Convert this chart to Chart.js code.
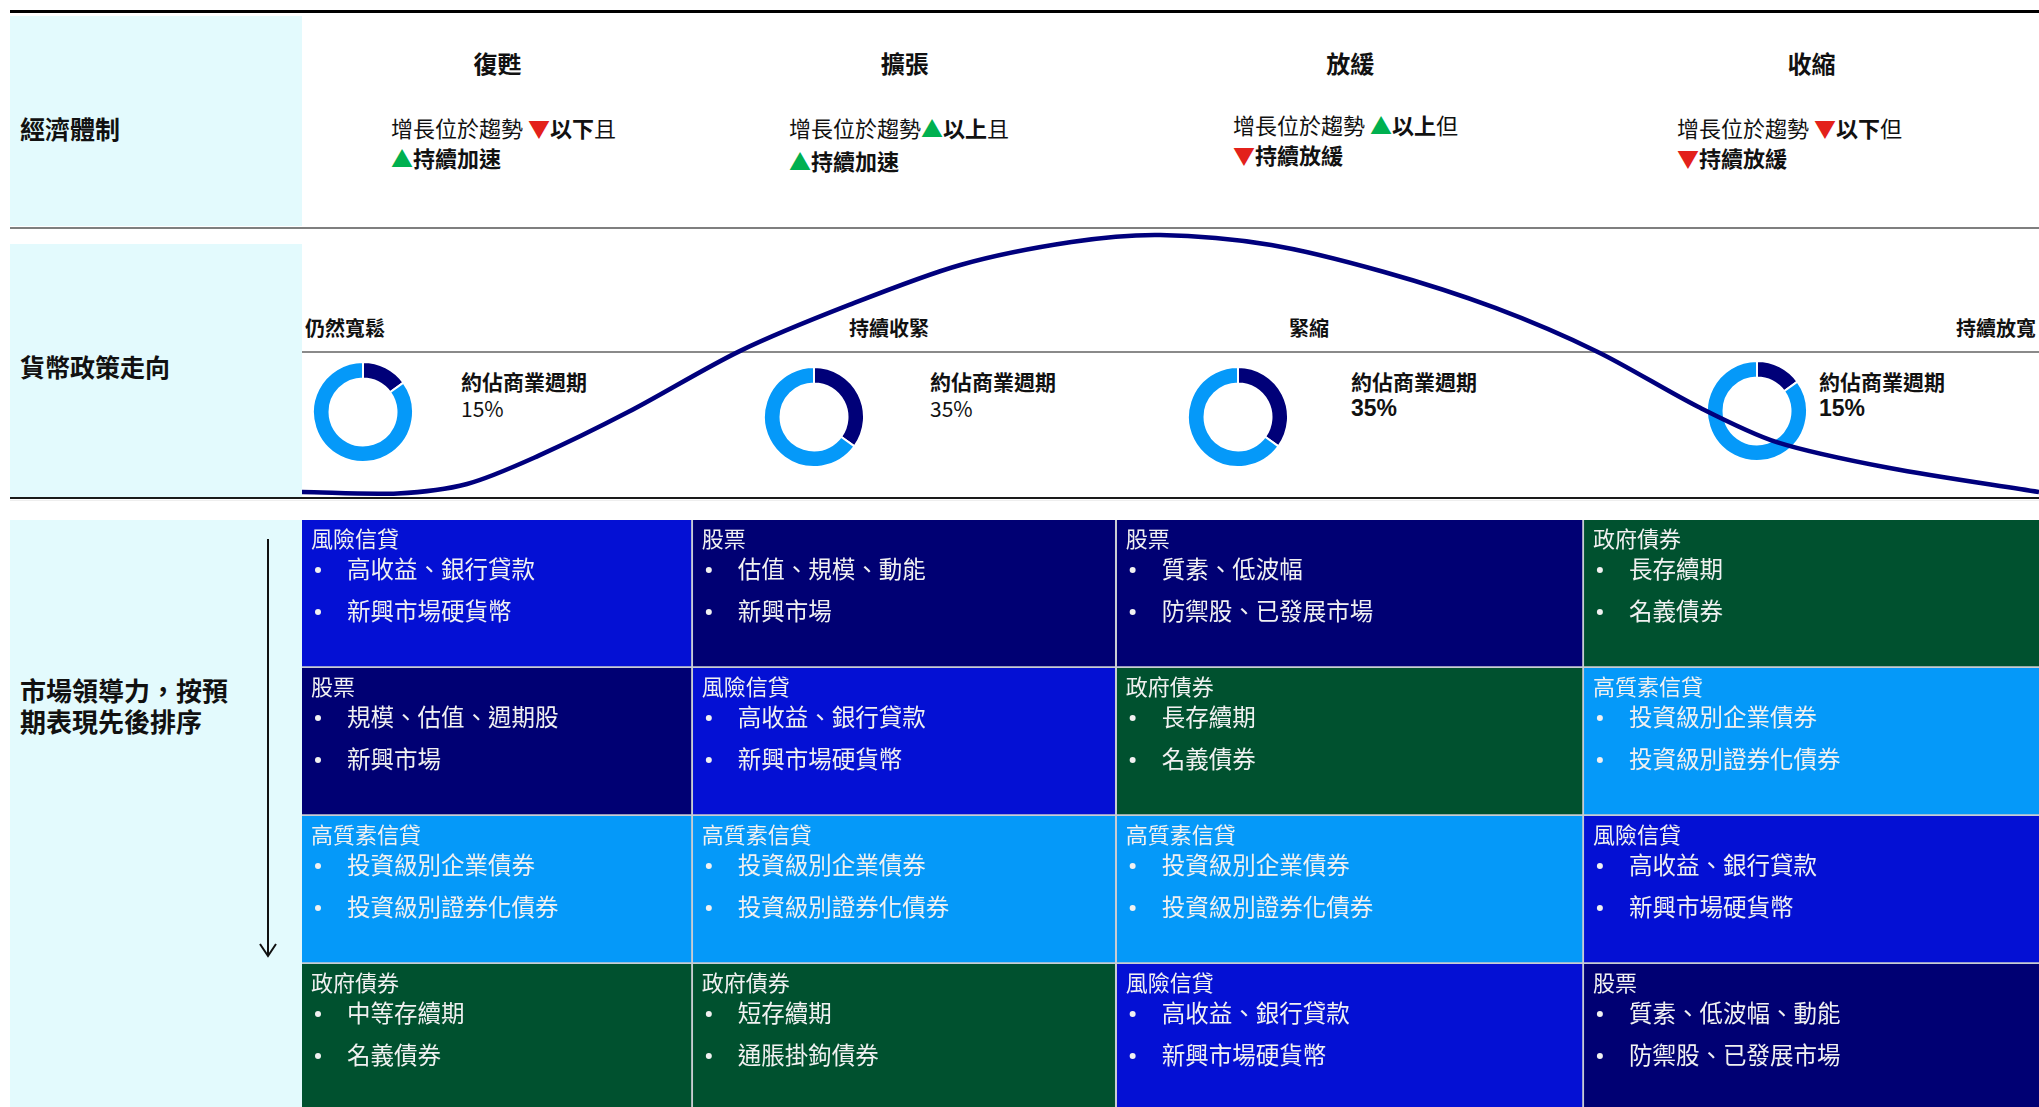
<!DOCTYPE html>
<html>
<head>
<meta charset="utf-8">
<script src="https://cdn.jsdelivr.net/npm/chart.js@4.4.1/dist/chart.umd.min.js"></script>
<style>
  html, body { margin: 0; padding: 0; background: #fff; }
  body { width: 2039px; height: 1107px; overflow: hidden; position: relative; font-family: "Noto Sans CJK TC", "Noto Sans", sans-serif; color: #111; }
  .abs { position: absolute; white-space: nowrap; }
  .panel { position: absolute; left: 10px; width: 292px; background: #e3fafd; }
  .rule { position: absolute; }
  .rowlabel { font-size: 25px; font-weight: bold; line-height: 30px; left: 20px; }
  .head { font-size: 24px; font-weight: bold; line-height: 30px; transform: translateX(-50%); }
  .sub { font-size: 22px; }
  .sub b { font-weight: bold; }
  .up { color: #00b050; }
  .down { color: #e3211b; }
  .policy { font-size: 20px; font-weight: bold; line-height: 26px; }
  .share { font-size: 21px; font-weight: bold; line-height: 27px; }
  .pct { font-size: 21px; line-height: 27px; font-weight: normal; }
  .pct.strong { font-family: "Liberation Sans", Arial, sans-serif; font-weight: bold; font-size: 23px; }
  canvas { position: absolute; }
</style>
</head>
<body>
<div class="rule" style="left:10px;top:10px;width:2029px;height:3px;background:#000"></div>
<div class="panel" style="top:16px;height:210px"></div>
<div class="rule" style="left:10px;top:227px;width:2029px;height:2px;background:#7f7f7f"></div>
<div class="panel" style="top:244px;height:253px"></div>
<div class="rule" style="left:302px;top:351px;width:1737px;height:2px;background:#8a8a8a"></div>
<div class="rule" style="left:10px;top:497px;width:2029px;height:2px;background:#1a1a1a"></div>
<div class="rule" style="left:10px;top:500px;width:2029px;height:1px;background:#eeeeee"></div>
<div class="panel" style="top:520px;height:600px"></div>

<div class="abs rowlabel" style="top:113px">經濟體制</div>
<div class="abs rowlabel" style="top:351px">貨幣政策走向</div>
<div class="abs rowlabel" style="top:674px;font-size:26px;line-height:31px">市場領導力，按預<br>期表現先後排序</div>

<svg class="abs" style="left:256px;top:535px" width="24" height="430">
  <line x1="12" y1="4" x2="12" y2="421" stroke="#111" stroke-width="2"/>
  <polyline points="4,409 12,421 20,409" fill="none" stroke="#111" stroke-width="2"/>
</svg>

<canvas id="grid" width="1737" height="592" style="left:302px;top:520px"></canvas>
<div id="texts"></div>
<canvas id="curve" width="1737" height="270" style="left:302px;top:228px;z-index:5"></canvas>

<script>
// phases of the business cycle, shared x axis (0-100 = one full cycle)
const phases = ["復甦", "擴張", "放緩", "收縮"];
const phaseBounds = [0, 22.5, 46.9, 73.8, 100];

// 經濟體制 notes
const trendDir = ["▼", "▲", "▲", "▼"];
const trendWord = ["以下", "以上", "以上", "以下"];
const trendJoin = ["且", "且", "但", "但"];
const momentumDir = ["▲", "▲", "▼", "▼"];
const momentumWord = ["持續加速", "持續加速", "持續放緩", "持續放緩"];

// 貨幣政策走向
const policyLabels = ["仍然寬鬆", "持續收緊", "緊縮", "持續放寬"];
const cycleShare = [15, 35, 35, 15];
const policyX = [0, 5.5, 9.5, 13.6, 18.8, 25.2, 31.5, 37.9, 44.3, 49.4, 55.8, 62.3, 68.7, 74.6, 80.4, 84.9, 91.4, 100];
const policyY = [2.2, 1.7, 5.2, 15.6, 31.9, 54.4, 71.5, 86.3, 94.8, 97.4, 93.7, 83.7, 70.4, 54.1, 33.7, 20.7, 11.1, 2.2];

// 市場領導力 (rank 1 at top)
const ranks = ["1", "2", "3", "4"];
const leaderAssets = [
  ["風險信貸", "股票", "高質素信貸", "政府債券"],
  ["股票", "風險信貸", "高質素信貸", "政府債券"],
  ["股票", "政府債券", "高質素信貸", "風險信貸"],
  ["政府債券", "高質素信貸", "風險信貸", "股票"]
];
const leaderNotes = [
  [["高收益、銀行貸款", "新興市場硬貨幣"], ["規模、估值、週期股", "新興市場"], ["投資級別企業債券", "投資級別證券化債券"], ["中等存續期", "名義債券"]],
  [["估值、規模、動能", "新興市場"], ["高收益、銀行貸款", "新興市場硬貨幣"], ["投資級別企業債券", "投資級別證券化債券"], ["短存續期", "通脹掛鉤債券"]],
  [["質素、低波幅", "防禦股、已發展市場"], ["長存續期", "名義債券"], ["投資級別企業債券", "投資級別證券化債券"], ["高收益、銀行貸款", "新興市場硬貨幣"]],
  [["長存續期", "名義債券"], ["投資級別企業債券", "投資級別證券化債券"], ["高收益、銀行貸款", "新興市場硬貨幣"], ["質素、低波幅、動能", "防禦股、已發展市場"]]
];

// styles / layout
const assetColors = { "風險信貸": "#0410d4", "股票": "#000073", "高質素信貸": "#0599f9", "政府債券": "#00512f" };
const NAVY = "#000078";
const subLeft = [391, 789, 1233, 1677];
const subTop = [112, 111, 109, 112];
const subLine = [30, 33, 30, 30];
const subGap = [" ", "", " ", " "];
const policyLeft = [305, 849, 1289, 1956];
const donutCenter = [[363, 412], [814, 417], [1238, 417], [1757, 411]];
const shareLeft = [461, 930, 1351, 1819];
const pctStrong = [false, false, true, true];

const texts = document.getElementById("texts");
function addDiv(cls, style, html) {
  const d = document.createElement("div");
  d.className = "abs " + cls;
  d.setAttribute("style", style);
  d.innerHTML = html;
  texts.appendChild(d);
  return d;
}

const cellText = {
  id: "cellText",
  afterDatasetsDraw(chart) {
    const ctx = chart.ctx;
    ctx.save();
    ctx.fillStyle = "#f1f1f1";
    ctx.textBaseline = "middle";
    chart.data.datasets.forEach((ds, i) => {
      chart.getDatasetMeta(i).data.forEach((bar, r) => {
        const left = bar.base;
        const top = bar.y - bar.height / 2;
        ctx.font = '22px "Noto Sans CJK TC", sans-serif';
        ctx.fillText(leaderAssets[i][r], left + 9, top + 19);
        ctx.font = '23.5px "Noto Sans CJK TC", sans-serif';
        leaderNotes[i][r].forEach((t, k) => {
          const y = top + 49 + k * 42;
          ctx.beginPath();
          ctx.arc(left + 16, y + 1, 3, 0, Math.PI * 2);
          ctx.fill();
          ctx.fillText(t, left + 45, y);
        });
      });
    });
    ctx.restore();
  }
};

const gridChart = new Chart(document.getElementById("grid"), {
  type: "bar",
  data: {
    labels: ranks,
    datasets: phases.map((p, i) => ({
      label: p,
      data: ranks.map(() => [phaseBounds[i], phaseBounds[i + 1]]),
      backgroundColor: leaderAssets[i].map(a => assetColors[a]),
      borderColor: "#c9cdd3",
      borderWidth: { top: 0, left: 0, right: i < 3 ? 2 : 0, bottom: 2 },
      borderSkipped: false,
      grouped: false,
      barPercentage: 1,
      categoryPercentage: 1
    }))
  },
  options: {
    indexAxis: "y",
    responsive: false,
    animation: false,
    events: [],
    layout: { padding: 0 },
    plugins: { legend: { display: false }, tooltip: { enabled: false } },
    scales: {
      x: { type: "linear", min: 0, max: 100, display: false },
      y: { display: false }
    }
  },
  plugins: [cellText]
});

// phase headers centred on their columns
const xs = gridChart.scales.x;
phases.forEach((p, i) => {
  const cx = 302 + xs.getPixelForValue((phaseBounds[i] + phaseBounds[i + 1]) / 2);
  addDiv("head", `left:${cx}px;top:48px`, p);
  addDiv("sub", `left:${subLeft[i]}px;top:${subTop[i]}px;line-height:${subLine[i]}px`,
    `增長位於趨勢${subGap[i]}<span class="${trendDir[i] === "▲" ? "up" : "down"}">${trendDir[i]}</span><b>${trendWord[i]}</b>${trendJoin[i]}<br>` +
    `<span class="${momentumDir[i] === "▲" ? "up" : "down"}">${momentumDir[i]}</span><b>${momentumWord[i]}</b>`);
});

// policy labels and share of cycle
policyLabels.forEach((t, i) => {
  addDiv("policy", `left:${policyLeft[i]}px;top:315px`, t);
  addDiv("share", `left:${shareLeft[i]}px;top:368px`, "約佔商業週期");
  addDiv("pct" + (pctStrong[i] ? " strong" : ""), `left:${shareLeft[i]}px;top:395px`, cycleShare[i] + "%");

  const c = document.createElement("canvas");
  c.width = 102; c.height = 102;
  c.style.left = (donutCenter[i][0] - 51) + "px";
  c.style.top = (donutCenter[i][1] - 51) + "px";
  document.body.appendChild(c);
  new Chart(c, {
    type: "doughnut",
    data: {
      labels: ["週期", "其餘"],
      datasets: [{
        data: [cycleShare[i], 100 - cycleShare[i]],
        backgroundColor: [NAVY, "#0599f9"],
        borderColor: "#ffffff",
        borderWidth: 2
      }]
    },
    options: {
      responsive: false,
      animation: false,
      events: [],
      cutout: "67%",
      layout: { padding: 0 },
      plugins: { legend: { display: false }, tooltip: { enabled: false } }
    }
  });
});

// monetary policy curve
new Chart(document.getElementById("curve"), {
  type: "line",
  data: {
    datasets: [{
      data: policyX.map((x, i) => ({ x: x, y: policyY[i] })),
      borderColor: "#00007d",
      borderWidth: 4.5,
      pointRadius: 0,
      fill: false,
      tension: 0.3
    }]
  },
  options: {
    responsive: false,
    animation: false,
    events: [],
    layout: { padding: 0 },
    plugins: { legend: { display: false }, tooltip: { enabled: false } },
    scales: {
      x: { type: "linear", min: 0, max: 100, display: false },
      y: { min: 0, max: 100, display: false }
    }
  }
});
</script>
</body>
</html>
